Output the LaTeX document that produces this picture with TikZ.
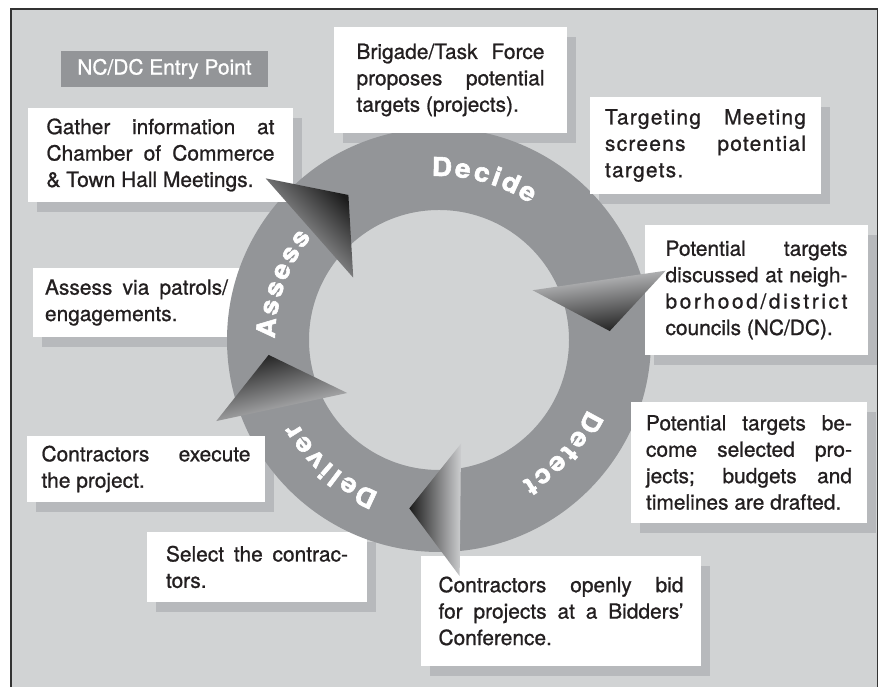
\documentclass[tikz,border=0pt]{standalone}
\usepackage{fontspec}
\setmainfont{TeX Gyre Heros}[FakeBold=0.9]
\definecolor{bgray}{RGB}{209,211,212}
\definecolor{ringgray}{RGB}{147,149,152}
\definecolor{shadowgray}{RGB}{183,185,188}
\definecolor{inkblack}{RGB}{35,31,32}
\definecolor{tiplight}{RGB}{205,206,208}
\definecolor{tipdark}{RGB}{28,28,28}
\pgfdeclarelayer{bg}
\pgfsetlayers{bg,main}
\newcommand{\spreadline}[1]{\makebox[\hsize][s]{#1}}

\begin{document}
\begin{tikzpicture}[x=1bp, y=1bp,
    font=\fontsize{21}{26.5}\selectfont,
    txtbox/.style={fill=white, text=inkblack, inner sep=0pt, align=justify},
    ringtxt/.style={text=white, font=\fontsize{26}{26}\selectfont\bfseries\addfontfeature{FakeBold=2.2, FakeStretch=1.08}, inner sep=0pt, anchor=base},
    tipshade/.style={top color=tipdark, bottom color=tiplight}]
    \useasboundingbox (0,0) rectangle (879,687);
    \coordinate (hub) at (439,347);

    % Boxes that sit under the ring
    \node[txtbox, text width=183bp, minimum width=207bp, minimum height=69bp] (patrols) at (136.5,384.5)
        {Assess via patrols/\linebreak engagements.};
    \node[txtbox, text width=182bp, minimum width=220bp, minimum height=70bp] (contract) at (257,120)
        {Select the contrac-\linebreak tors.};

    % The cycle ring
    \begin{scope}[shift={(hub)}]
        \fill[ringgray, even odd rule] (0,0) circle (212bp) (0,0) circle (130bp);

        % Phase names, one letter at a time
        \foreach[count=\i] \ch/\ang in {D/89, e/82, c/75.5, i/70.5, d/65.3, e/59}
            \node[ringtxt, rotate=\ang-90] (decide\i) at (\ang:164bp) {\ch};
        \foreach[count=\i] \ch/\ang in {D/-28.5, e/-35.5, t/-40.9, e/-46.3, c/-52.6, t/-58}
            \node[ringtxt, rotate=\ang-90] (detect\i) at (\ang:164bp) {\ch};
        \foreach[count=\i] \ch/\ang in {D/245, e/238, l/232.9, i/229, v/223.9, e/217.6, r/212}
            \node[ringtxt, rotate=\ang-90] (deliver\i) at (\ang:164bp) {\ch};
        \foreach[count=\i] \ch/\ang in {A/176, s/169, s/162.7, e/156.4, s/150.1, s/143.8}
            \node[ringtxt, rotate=\ang-90] (assess\i) at (\ang:164bp) {\ch};
    \end{scope}

    % Step boxes
    \node[fill=ringgray, text=white, inner sep=0pt, minimum width=207bp, minimum height=36bp] (entry) at (164.5,618)
        {NC/DC Entry Point};
    \node[txtbox, text width=228bp, minimum width=265bp, minimum height=94bp] (gather) at (160.5,532)
        {Gather information at\linebreak Chamber of Commerce\linebreak \& Town Hall Meetings.};
    \node[txtbox, text width=188bp, minimum width=233bp, minimum height=106bp] (brigade) at (450.5,607)
        {Brigade/Task Force\linebreak proposes potential\linebreak targets (projects).};
    \node[txtbox, text width=201bp, minimum width=231bp, minimum height=97bp,
          font=\fontsize{21}{26.5}\selectfont\addfontfeature{LetterSpace=6}] (screen) at (705.5,541.5)
        {Targeting Meeting\linebreak screens potential\linebreak targets.};
    \node[txtbox, text width=182bp, minimum width=223bp, minimum height=130bp] (council) at (756.5,397)
        {Potential targets\linebreak discussed at neigh-\linebreak
         \spreadline{b\hfil o\hfil r\hfil h\hfil o\hfil o\hfil d\hfil /\hfil d\hfil i\hfil s\hfil t\hfil r\hfil i\hfil c\hfil t}\linebreak
         councils (NC/DC).};
    \node[txtbox, text width=206bp, minimum width=236bp, minimum height=121bp] (select) at (749,224.5)
        {Potential targets be-\linebreak come selected pro-\linebreak jects; budgets and\linebreak timelines are drafted.};
    \node[txtbox, text width=245bp, minimum width=280bp, minimum height=110bp] (bid) at (561,76)
        {Contractors openly bid\linebreak for projects at a Bidders'\linebreak Conference.};
    \node[txtbox, text width=209bp, minimum width=238bp, minimum height=66bp] (execute) at (146,218)
        {Contractors execute\linebreak the project.};

    % Arrow heads between the phases
    \begin{scope}[shift={(hub)}]
        \foreach \ob/\tp/\ib/\sa in {137/122/144/-46, 17/3/28/-173, -85/-100/-78/90, 200/185/210/14}
            \shade[tipshade, shading angle=\sa] (\ob:237bp) -- (\tp:171bp) -- (\ib:106bp) -- cycle;
    \end{scope}

    % Frame and box shadows
    \begin{pgfonlayer}{bg}
        \fill[bgray, draw=black!80, line width=1.3bp] (11,-10) rectangle (877.5,678);
        \foreach \b in {patrols, contract, gather, brigade, screen, council, select, bid, execute}
            \fill[shadowgray] ([xshift=9bp, yshift=-10bp]\b.south west) rectangle ([xshift=9bp, yshift=-10bp]\b.north east);
    \end{pgfonlayer}
\end{tikzpicture}
\end{document}
